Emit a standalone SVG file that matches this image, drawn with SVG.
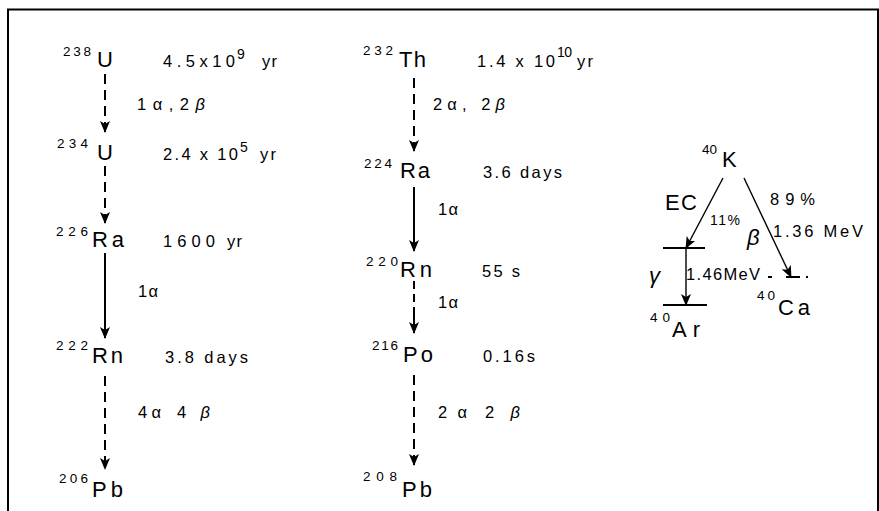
<svg xmlns="http://www.w3.org/2000/svg" width="879" height="511" viewBox="0 0 879 511">
<style>
text{font-family:"Liberation Sans",Arial,sans-serif;fill:#000}
.el{font-size:22px}
.sup{font-size:13.5px}
.t{font-size:16.5px}
.sm{font-size:14px}
.ln{stroke:#000;stroke-width:2;fill:none}
.dash{stroke-dasharray:10 6}
.thin{stroke:#000;stroke-width:1.4;fill:none}
</style>
<defs>
<marker id="ah" viewBox="0 0 12 10" refX="11" refY="5" markerWidth="12" markerHeight="10" markerUnits="userSpaceOnUse" orient="auto">
<path d="M0,0 L12,5 L0,10 L3,5 z" fill="#000"/>
</marker>
</defs>
<rect width="879" height="511" fill="#fff"/>
<g id="frame" class="ln">
<path d="M8,511 V9.5 H878 V511"/>
</g>

<g id="connectors">
<line class="ln dash" x1="105" y1="74" x2="105" y2="132" marker-end="url(#ah)"/>
<line class="ln dash" x1="105" y1="166" x2="105" y2="223" marker-end="url(#ah)"/>
<line class="ln" x1="105" y1="253" x2="105" y2="338" marker-end="url(#ah)"/>
<line class="ln dash" x1="105" y1="376" x2="105" y2="469" marker-end="url(#ah)"/>
<line class="ln dash" x1="414" y1="78" x2="414" y2="151" marker-end="url(#ah)"/>
<line class="ln" x1="414" y1="187" x2="414" y2="251" marker-end="url(#ah)"/>
<line class="ln" x1="414" y1="281" x2="414" y2="333" stroke-dasharray="8 5 8 5 200" marker-end="url(#ah)"/>
<line class="ln dash" x1="414" y1="375" x2="414" y2="465" marker-end="url(#ah)"/>
<line class="thin" x1="723" y1="178" x2="686" y2="248" marker-end="url(#ah)"/>
<line class="thin" x1="744" y1="178" x2="791" y2="277" marker-end="url(#ah)"/>
<line class="thin" x1="686" y1="248" x2="686" y2="305" marker-end="url(#ah)"/>
</g>

<g id="levels" class="ln">
<line x1="663" y1="248" x2="705" y2="248"/>
<line x1="663" y1="305" x2="707" y2="305"/>
<line x1="768" y1="277" x2="808" y2="277" stroke-dasharray="4 14 14 6 3"/>
</g>

<g id="U238">
<text class="sup" x="63" y="56" textLength="28">238</text>
<text class="el" x="97" y="67">U</text>
<text class="t" x="163" y="67" textLength="72">4.5x10</text>
<text class="sm" x="237" y="59">9</text>
<text class="t" x="262" y="67" textLength="15">yr</text>
</g>
<text class="t" x="137" y="110" textLength="68">1α,2<tspan font-style="italic">β</tspan></text>
<g id="U234">
<text class="sup" x="57" y="148" textLength="31">234</text>
<text class="el" x="97" y="160">U</text>
<text class="t" x="163" y="160" textLength="75">2.4 x 10</text>
<text class="sm" x="240" y="152">5</text>
<text class="t" x="260" y="160" textLength="16">yr</text>
</g>
<g id="Ra226">
<text class="sup" x="56" y="236" textLength="32">226</text>
<text class="el" x="92" y="247" textLength="32">Ra</text>
<text class="t" x="163" y="247" textLength="52">1600</text>
<text class="t" x="227" y="247" textLength="15">yr</text>
</g>
<text class="t" x="138" y="297" textLength="20">1α</text>
<g id="Rn222">
<text class="sup" x="56" y="350" textLength="32">222</text>
<text class="el" x="92" y="363" textLength="31">Rn</text>
<text class="t" x="165" y="363" textLength="83">3.8 days</text>
</g>
<text class="t" x="138" y="418" textLength="23">4α</text>
<text class="t" x="177" y="418" textLength="33">4 <tspan font-style="italic">β</tspan></text>
<g id="Pb206">
<text class="sup" x="59" y="483" textLength="29">206</text>
<text class="el" x="92" y="497" textLength="31">Pb</text>
</g>

<g id="Th232">
<text class="sup" x="363" y="55" textLength="30">232</text>
<text class="el" x="399" y="67" textLength="27">Th</text>
<text class="t" x="477" y="67" textLength="78">1.4 x 10</text>
<text class="sm" x="557" y="57" textLength="15">10</text>
<text class="t" x="577" y="67" textLength="16">yr</text>
</g>
<text class="t" x="433" y="110" textLength="72">2α, 2<tspan font-style="italic">β</tspan></text>
<g id="Ra224">
<text class="sup" x="364" y="168" textLength="28">224</text>
<text class="el" x="400" y="178" textLength="30">Ra</text>
<text class="t" x="483" y="178" textLength="79">3.6 days</text>
</g>
<text class="t" x="438" y="215" textLength="20">1α</text>
<g id="Rn220">
<text class="sup" x="366" y="266" textLength="32">220</text>
<text class="el" x="400" y="277" textLength="32">Rn</text>
<text class="t" x="482" y="277" textLength="38">55 s</text>
</g>
<text class="t" x="438" y="308" textLength="20">1α</text>
<g id="Po216">
<text class="sup" x="372" y="350" textLength="26">216</text>
<text class="el" x="403" y="362" textLength="30">Po</text>
<text class="t" x="483" y="362" textLength="52">0.16s</text>
</g>
<text class="t" x="438" y="418" textLength="29">2α</text>
<text class="t" x="485" y="418" textLength="35">2 <tspan font-style="italic">β</tspan></text>
<g id="Pb208">
<text class="sup" x="363" y="481" textLength="34">208</text>
<text class="el" x="402" y="497" textLength="30">Pb</text>
</g>

<g id="K40">
<text class="sup" x="702" y="154" textLength="15">40</text>
<text class="el" x="722" y="167">K</text>
</g>
<text class="el" x="665" y="210" textLength="32">EC</text>
<text class="sm" x="710" y="225" textLength="30">11%</text>
<text class="t" x="770" y="205" textLength="45">89%</text>
<text class="el" x="747" y="245" font-size="19" font-style="italic">β</text>
<text class="t" x="773" y="237" textLength="90">1.36 MeV</text>
<text class="el" x="649" y="283" font-size="19" font-style="italic">γ</text>
<text class="t" x="686" y="280" textLength="74">1.46MeV</text>
<g id="Ca40">
<text class="sup" x="757" y="300" textLength="18">40</text>
<text class="el" x="778" y="315" textLength="32">Ca</text>
</g>
<g id="Ar40">
<text class="sup" x="650" y="322" textLength="20">40</text>
<text class="el" x="672" y="337" textLength="28">Ar</text>
</g>
</svg>
